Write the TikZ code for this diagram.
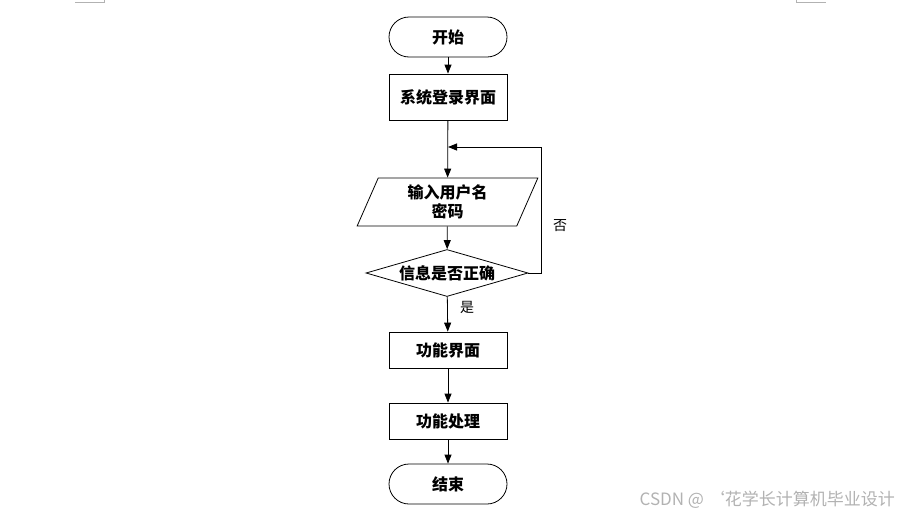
\documentclass[tikz,border=0pt]{standalone}
\usepackage{fontspec}
\newfontfamily\cjk{Noto Sans CJK SC}
\usetikzlibrary{shapes.geometric,arrows.meta}
\begin{document}
\begin{tikzpicture}[x=1pt,y=-1pt,
  base/.style={draw=black,line width=0.8pt,inner sep=0pt,font=\cjk\bfseries\fontsize{16}{20}\selectfont,align=center},
  term/.style={base,rounded corners=20pt,minimum width=118pt,minimum height=40pt},
  proc/.style={base,minimum width=118pt,minimum height=46pt},
  proc2/.style={base,minimum width=118pt,minimum height=36pt},
  io/.style={base,trapezium,trapezium left angle=64,trapezium right angle=116,minimum width=181pt,minimum height=48pt,trapezium stretches=true},
  dec/.style={base,diamond,minimum width=162pt,minimum height=47pt,aspect=3.4},
  arr/.style={line width=0.8pt,-{Triangle[length=9pt,width=7pt]}},
  lbl/.style={font=\cjk\fontsize{14}{16}\selectfont,inner sep=0pt},
  pagemark/.style={draw=black!30,line width=1pt}]
\useasboundingbox (0,0) rectangle (900,517);
\draw[pagemark] (75,2) -- (104,2) -- (104,0);
\draw[pagemark] (796,0) -- (796,2) -- (826,2);
\node[term] (start) at (448,37) {开始};
\node[proc] (login) at (448,97) {系统登录界面};
\node[io,text width=110pt] (input) at (447.5,202) {输入用户名\\[-1pt]密码};
\node[dec] (check) at (447,273) {信息是否正确};
\node[proc2] (func) at (448,350) {功能界面};
\node[proc2] (proc) at (448,421) {功能处理};
\node[term] (end) at (448,484) {结束};
\coordinate (merge) at (448,147);
\coordinate (rt) at (541,273);
\coordinate (rtop) at (541,147);
\draw[arr] (start) -- (login);
\draw[arr] (login) -- (input);
\draw[arr] (input) -- (check);
\draw[line width=0.8pt] (check.east) -- (rt) -- (rtop);
\draw[arr] (rtop) -- (merge);
\draw[arr] (check) -- (func);
\draw[arr] (func) -- (proc);
\draw[arr] (proc) -- (end);
\node[lbl] (no) at (560,226) {否};
\node[lbl] (yes) at (467,307) {是};
\node[font=\cjk\fontsize{17}{20}\selectfont,text=black!30,anchor=east,inner sep=0pt] (wm) at (895,500) {CSDN @ ‘花学长计算机毕业设计};
\end{tikzpicture}
\end{document}
